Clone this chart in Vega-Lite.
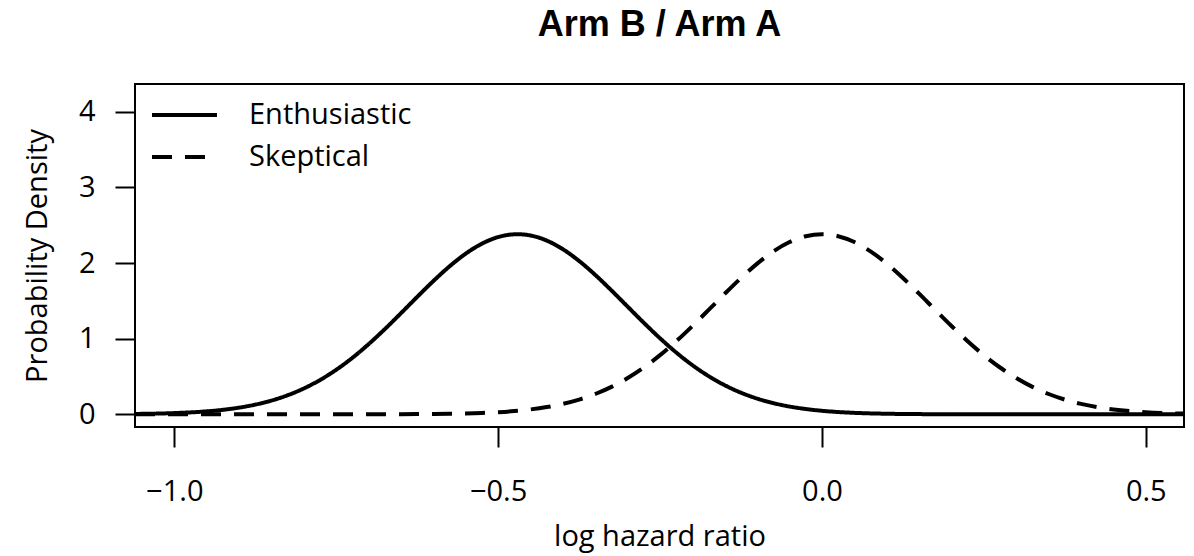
{
  "$schema": "https://vega.github.io/schema/vega-lite/v6.json",
  "width": 1049,
  "height": 343,
  "autosize": {"type": "none"},
  "padding": {"left": 135, "top": 84, "right": 10, "bottom": 129},
  "background": "white",
  "title": {"text": "Arm B / Arm A", "font": "Liberation Sans", "fontSize": 36, "fontWeight": "bold", "color": "black", "anchor": "middle", "offset": 40},
  "data": {"values": [
    {"x": -1.0607, "density": 0.0047, "prior": "Enthusiastic"},
    {"x": -1.05, "density": 0.0059, "prior": "Enthusiastic"},
    {"x": -1.025, "density": 0.0098, "prior": "Enthusiastic"},
    {"x": -1.0, "density": 0.0160, "prior": "Enthusiastic"},
    {"x": -0.975, "density": 0.0253, "prior": "Enthusiastic"},
    {"x": -0.95, "density": 0.0392, "prior": "Enthusiastic"},
    {"x": -0.925, "density": 0.0595, "prior": "Enthusiastic"},
    {"x": -0.9, "density": 0.0883, "prior": "Enthusiastic"},
    {"x": -0.875, "density": 0.1281, "prior": "Enthusiastic"},
    {"x": -0.85, "density": 0.1817, "prior": "Enthusiastic"},
    {"x": -0.825, "density": 0.2521, "prior": "Enthusiastic"},
    {"x": -0.8, "density": 0.3420, "prior": "Enthusiastic"},
    {"x": -0.775, "density": 0.4539, "prior": "Enthusiastic"},
    {"x": -0.75, "density": 0.5890, "prior": "Enthusiastic"},
    {"x": -0.725, "density": 0.7476, "prior": "Enthusiastic"},
    {"x": -0.7, "density": 0.9279, "prior": "Enthusiastic"},
    {"x": -0.675, "density": 1.1263, "prior": "Enthusiastic"},
    {"x": -0.65, "density": 1.3370, "prior": "Enthusiastic"},
    {"x": -0.625, "density": 1.5523, "prior": "Enthusiastic"},
    {"x": -0.6, "density": 1.7624, "prior": "Enthusiastic"},
    {"x": -0.575, "density": 1.9569, "prior": "Enthusiastic"},
    {"x": -0.55, "density": 2.1251, "prior": "Enthusiastic"},
    {"x": -0.525, "density": 2.2568, "prior": "Enthusiastic"},
    {"x": -0.5, "density": 2.3439, "prior": "Enthusiastic"},
    {"x": -0.475, "density": 2.3807, "prior": "Enthusiastic"},
    {"x": -0.47, "density": 2.3818, "prior": "Enthusiastic"},
    {"x": -0.45, "density": 2.3649, "prior": "Enthusiastic"},
    {"x": -0.425, "density": 2.2974, "prior": "Enthusiastic"},
    {"x": -0.4, "density": 2.1827, "prior": "Enthusiastic"},
    {"x": -0.375, "density": 2.0279, "prior": "Enthusiastic"},
    {"x": -0.35, "density": 1.8427, "prior": "Enthusiastic"},
    {"x": -0.325, "density": 1.6375, "prior": "Enthusiastic"},
    {"x": -0.3, "density": 1.4231, "prior": "Enthusiastic"},
    {"x": -0.275, "density": 1.2095, "prior": "Enthusiastic"},
    {"x": -0.25, "density": 1.0054, "prior": "Enthusiastic"},
    {"x": -0.225, "density": 0.8172, "prior": "Enthusiastic"},
    {"x": -0.2, "density": 0.6497, "prior": "Enthusiastic"},
    {"x": -0.175, "density": 0.5051, "prior": "Enthusiastic"},
    {"x": -0.15, "density": 0.3840, "prior": "Enthusiastic"},
    {"x": -0.125, "density": 0.2856, "prior": "Enthusiastic"},
    {"x": -0.1, "density": 0.2077, "prior": "Enthusiastic"},
    {"x": -0.075, "density": 0.1477, "prior": "Enthusiastic"},
    {"x": -0.05, "density": 0.1027, "prior": "Enthusiastic"},
    {"x": -0.025, "density": 0.0699, "prior": "Enthusiastic"},
    {"x": 0.0, "density": 0.0465, "prior": "Enthusiastic"},
    {"x": 0.025, "density": 0.0302, "prior": "Enthusiastic"},
    {"x": 0.05, "density": 0.0192, "prior": "Enthusiastic"},
    {"x": 0.075, "density": 0.0120, "prior": "Enthusiastic"},
    {"x": 0.1, "density": 0.0073, "prior": "Enthusiastic"},
    {"x": 0.125, "density": 0.0043, "prior": "Enthusiastic"},
    {"x": 0.15, "density": 0.0025, "prior": "Enthusiastic"},
    {"x": 0.175, "density": 0.0014, "prior": "Enthusiastic"},
    {"x": 0.2, "density": 0.0008, "prior": "Enthusiastic"},
    {"x": 0.225, "density": 0.0004, "prior": "Enthusiastic"},
    {"x": 0.25, "density": 0.0002, "prior": "Enthusiastic"},
    {"x": 0.3, "density": 0.0, "prior": "Enthusiastic"},
    {"x": 0.4, "density": 0.0, "prior": "Enthusiastic"},
    {"x": 0.5, "density": 0.0, "prior": "Enthusiastic"},
    {"x": 0.559, "density": 0.0, "prior": "Enthusiastic"},
    {"x": -1.0607, "density": 0.0, "prior": "Skeptical"},
    {"x": -0.9, "density": 0.0, "prior": "Skeptical"},
    {"x": -0.8, "density": 0.0, "prior": "Skeptical"},
    {"x": -0.75, "density": 0.0001, "prior": "Skeptical"},
    {"x": -0.725, "density": 0.0002, "prior": "Skeptical"},
    {"x": -0.7, "density": 0.0004, "prior": "Skeptical"},
    {"x": -0.675, "density": 0.0007, "prior": "Skeptical"},
    {"x": -0.65, "density": 0.0013, "prior": "Skeptical"},
    {"x": -0.625, "density": 0.0023, "prior": "Skeptical"},
    {"x": -0.6, "density": 0.0039, "prior": "Skeptical"},
    {"x": -0.575, "density": 0.0066, "prior": "Skeptical"},
    {"x": -0.55, "density": 0.0109, "prior": "Skeptical"},
    {"x": -0.525, "density": 0.0175, "prior": "Skeptical"},
    {"x": -0.5, "density": 0.0277, "prior": "Skeptical"},
    {"x": -0.475, "density": 0.0427, "prior": "Skeptical"},
    {"x": -0.45, "density": 0.0645, "prior": "Skeptical"},
    {"x": -0.425, "density": 0.0953, "prior": "Skeptical"},
    {"x": -0.4, "density": 0.1376, "prior": "Skeptical"},
    {"x": -0.375, "density": 0.1943, "prior": "Skeptical"},
    {"x": -0.35, "density": 0.2684, "prior": "Skeptical"},
    {"x": -0.325, "density": 0.3627, "prior": "Skeptical"},
    {"x": -0.3, "density": 0.4790, "prior": "Skeptical"},
    {"x": -0.275, "density": 0.6188, "prior": "Skeptical"},
    {"x": -0.25, "density": 0.7819, "prior": "Skeptical"},
    {"x": -0.225, "density": 0.9663, "prior": "Skeptical"},
    {"x": -0.2, "density": 1.1678, "prior": "Skeptical"},
    {"x": -0.175, "density": 1.3800, "prior": "Skeptical"},
    {"x": -0.15, "density": 1.5951, "prior": "Skeptical"},
    {"x": -0.125, "density": 1.8028, "prior": "Skeptical"},
    {"x": -0.1, "density": 1.9931, "prior": "Skeptical"},
    {"x": -0.075, "density": 2.1546, "prior": "Skeptical"},
    {"x": -0.05, "density": 2.2780, "prior": "Skeptical"},
    {"x": -0.025, "density": 2.3554, "prior": "Skeptical"},
    {"x": 0.0, "density": 2.3818, "prior": "Skeptical"},
    {"x": 0.025, "density": 2.3554, "prior": "Skeptical"},
    {"x": 0.05, "density": 2.2780, "prior": "Skeptical"},
    {"x": 0.075, "density": 2.1546, "prior": "Skeptical"},
    {"x": 0.1, "density": 1.9931, "prior": "Skeptical"},
    {"x": 0.125, "density": 1.8028, "prior": "Skeptical"},
    {"x": 0.15, "density": 1.5951, "prior": "Skeptical"},
    {"x": 0.175, "density": 1.3800, "prior": "Skeptical"},
    {"x": 0.2, "density": 1.1678, "prior": "Skeptical"},
    {"x": 0.225, "density": 0.9663, "prior": "Skeptical"},
    {"x": 0.25, "density": 0.7819, "prior": "Skeptical"},
    {"x": 0.275, "density": 0.6188, "prior": "Skeptical"},
    {"x": 0.3, "density": 0.4790, "prior": "Skeptical"},
    {"x": 0.325, "density": 0.3627, "prior": "Skeptical"},
    {"x": 0.35, "density": 0.2684, "prior": "Skeptical"},
    {"x": 0.375, "density": 0.1943, "prior": "Skeptical"},
    {"x": 0.4, "density": 0.1376, "prior": "Skeptical"},
    {"x": 0.425, "density": 0.0953, "prior": "Skeptical"},
    {"x": 0.45, "density": 0.0645, "prior": "Skeptical"},
    {"x": 0.475, "density": 0.0427, "prior": "Skeptical"},
    {"x": 0.5, "density": 0.0277, "prior": "Skeptical"},
    {"x": 0.525, "density": 0.0175, "prior": "Skeptical"},
    {"x": 0.559, "density": 0.0091, "prior": "Skeptical"}
  ]},
  "mark": {"type": "line", "interpolate": "monotone", "strokeWidth": 4, "color": "black", "strokeCap": "butt", "clip": true},
  "encoding": {
    "x": {"field": "x", "type": "quantitative", "scale": {"domain": [-1.0607, 0.559], "nice": false, "zero": false}, "axis": {"values": [-1, -0.5, 0, 0.5], "format": ".1f", "title": "log hazard ratio"}},
    "y": {"field": "density", "type": "quantitative", "scale": {"domain": [-0.168, 4.368], "nice": false, "zero": false}, "axis": {"values": [0, 1, 2, 3, 4], "title": "Probability Density"}},
    "strokeDash": {"field": "prior", "type": "nominal", "scale": {"domain": ["Enthusiastic", "Skeptical"], "range": [[1, 0], [20, 13]]},
      "legend": {"title": null, "orient": "none", "legendX": 15, "legendY": 11, "symbolType": "stroke", "symbolSize": 4225, "symbolStrokeWidth": 4, "symbolStrokeColor": "black", "labelFont": "Open Sans", "labelFontSize": 29, "labelColor": "black", "labelOffset": 30, "labelLimit": 0, "clipHeight": 40, "rowPadding": 2, "padding": 0}}
  },
  "config": {
    "view": {"stroke": "black", "strokeWidth": 2},
    "axis": {"domain": false, "ticks": true, "tickColor": "black", "tickWidth": 2, "tickSize": 20, "grid": false, "labelFont": "Open Sans", "labelFontSize": 29, "labelColor": "black", "titleFont": "Open Sans", "titleFontSize": 29, "titleFontWeight": "normal", "titleColor": "black"},
    "axisX": {"labelPadding": 30, "titlePadding": 16},
    "axisY": {"labelPadding": 20, "labelAngle": 0, "titlePadding": 26}
  }
}
